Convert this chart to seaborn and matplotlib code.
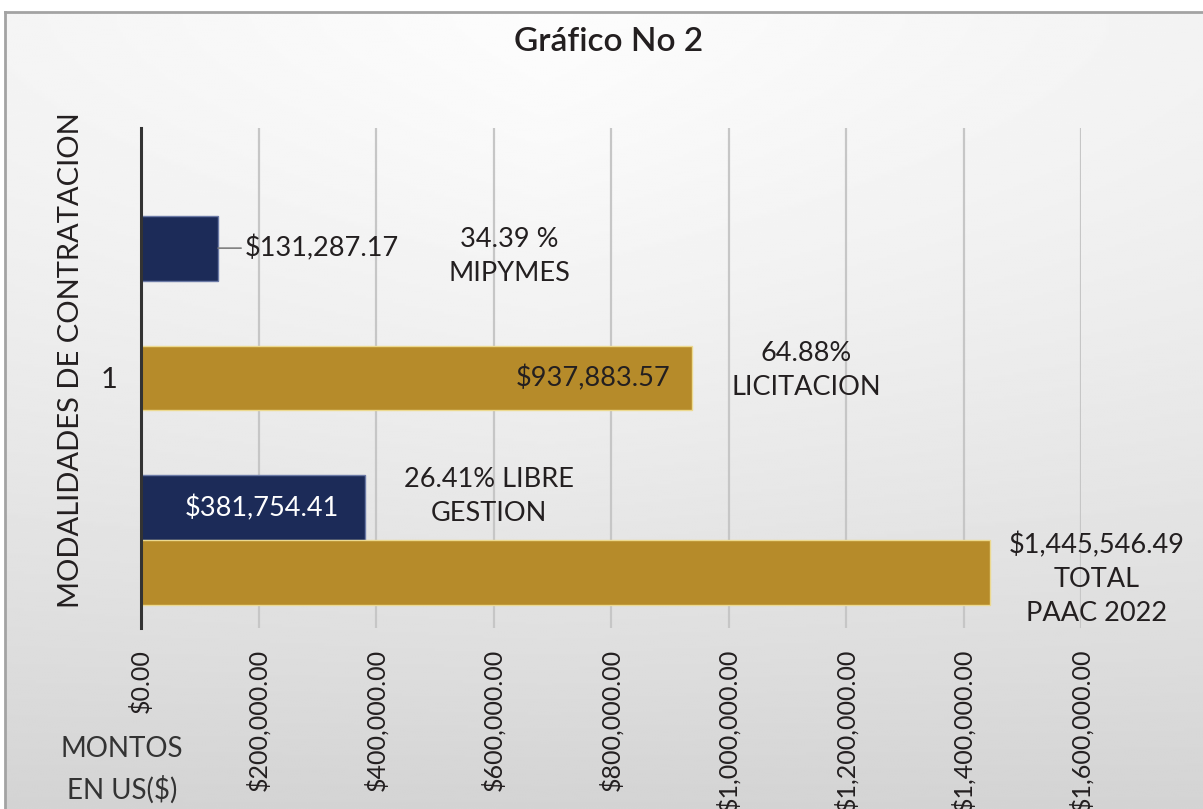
import numpy as np
import pandas as pd
import matplotlib.pyplot as plt
import seaborn as sns

sns.set_style("white")
plt.rcParams['font.family'] = ['Lato', 'DejaVu Sans']

# Data
modalidades = ["MIPYMES", "LICITACION", "LIBRE GESTION", "TOTAL PAAC 2022"]
montos = [131287.17, 937883.57, 381754.41, 1445546.49]
etiquetas_valor = ["$131,287.17", "$937,883.57", "$381,754.41", "$1,445,546.49"]
grupo = ["azul", "oro", "azul", "oro"]
x_ticks = [0, 200000, 400000, 600000, 800000, 1000000, 1200000, 1400000, 1600000]

# layout: row slot of each bar (bar height = 1 slot)
filas = [1.85, 3.85, 5.85, 6.85]

NAVY = "#1c2b58"
GOLD = "#b68b2a"
TXT = "#231f20"

df = pd.DataFrame({"modalidad": modalidades, "monto": montos,
                   "fila": filas, "grupo": grupo})

fig = plt.figure(figsize=(12.03, 8.09), dpi=100)

# background panel with soft gradient and gray frame
bg = fig.add_axes([5 / 1203, 0, 1 - 5 / 1203, 1 - 12 / 809], zorder=-5)
yy, xx = np.mgrid[0:1:300j, 0:1:400j]
shade = 0.99 - 0.16 * yy ** 1.4 - 0.07 * np.abs(xx - 0.45) * (1 - yy)
bg.imshow(shade, cmap="gray", vmin=0, vmax=1, aspect="auto",
          extent=[0, 1, 0, 1], origin="upper", interpolation="bilinear")
bg.set_xticks([])
bg.set_yticks([])
for s in ["right", "bottom"]:
    bg.spines[s].set_visible(False)
for s in ["left", "top"]:
    bg.spines[s].set_color("#a3a3a3")
    bg.spines[s].set_linewidth(2)

ax = fig.add_axes([141 / 1203, 1 - 628 / 809, (1081 - 141) / 1203, 500 / 809])
ax.patch.set_alpha(0)

sns.barplot(data=df, x="monto", y="fila", hue="grupo",
            palette={"azul": NAVY, "oro": GOLD}, orient="h",
            native_scale=True, dodge=False, width=1.0, errorbar=None,
            saturation=1, legend=False, ax=ax, zorder=3)

for p in ax.patches:
    fc = p.get_facecolor()
    p.set_edgecolor("#6b7aa6" if fc[2] > fc[0] else "#ecd98f")
    p.set_linewidth(1)

ax.set_xlim(0, 1600000)
ax.set_ylim(7.7, 0)
ax.set_xticks(x_ticks)
ax.set_xticklabels([f"${v:,.2f}" for v in x_ticks], rotation=90,
                   fontsize=18, color=TXT, va="top")
ax.set_yticks([filas[1]])
ax.set_yticklabels(["1"], fontsize=21, color=TXT)
ax.tick_params(axis="x", length=0, pad=15)
ax.tick_params(axis="y", length=0, pad=17)
ax.grid(axis="x", color="#c6c6c6", linewidth=1.6, zorder=0)
ax.grid(axis="y", visible=False)
ax.set_axisbelow(True)
for s in ["top", "right", "bottom"]:
    ax.spines[s].set_visible(False)
ax.spines["left"].set_color("#333333")
ax.spines["left"].set_linewidth(2.2)
ax.spines["left"].set_zorder(4)

ax.set_xlabel("")
ax.set_ylabel("MODALIDADES DE CONTRATACION", fontsize=21, color=TXT)
ax.yaxis.set_label_coords(-0.061, 0.536)

# value labels
fs = 19.5
ls = 1.45
ax.annotate(etiquetas_valor[0], xy=(montos[0], filas[0]),
            xytext=(176000, filas[0]), va="center", ha="left",
            fontsize=fs, color=TXT, zorder=5,
            arrowprops=dict(arrowstyle="-", color="#7f7f7f", lw=1.2,
                            shrinkA=0, shrinkB=0))
ax.text(902000, filas[1], etiquetas_valor[1], ha="right", va="center",
        fontsize=fs, color=TXT, zorder=5)
ax.text(206000, filas[2], etiquetas_valor[2], ha="center", va="center",
        fontsize=fs, color="white", zorder=5)

# category labels
ax.text(627000, 1.98, "34.39 %\nMIPYMES", ha="center", va="center",
        fontsize=fs, color=TXT, linespacing=ls, zorder=5)
ax.text(1132000, 3.74, "64.88%\nLICITACION", ha="center", va="center",
        fontsize=fs, color=TXT, linespacing=ls, zorder=5)
ax.text(592000, 5.68, "26.41% LIBRE\nGESTION", ha="center", va="center",
        fontsize=fs, color=TXT, linespacing=ls, zorder=5)
ax.text(1626000, 6.95, etiquetas_valor[3] + "\nTOTAL\nPAAC 2022",
        ha="center", va="center", fontsize=fs, color=TXT,
        linespacing=ls, zorder=5, clip_on=False)

fig.text(609 / 1203, 1 - 42 / 809, "Gráfico No 2", ha="center", va="center",
         fontsize=24, fontweight="semibold", color=TXT)
fig.text(122 / 1203, 1 - 770 / 809, "MONTOS\nEN US($)", ha="center",
         va="center", fontsize=20, color="#333333", linespacing=1.55)

fig.savefig("out.png", dpi=100)
